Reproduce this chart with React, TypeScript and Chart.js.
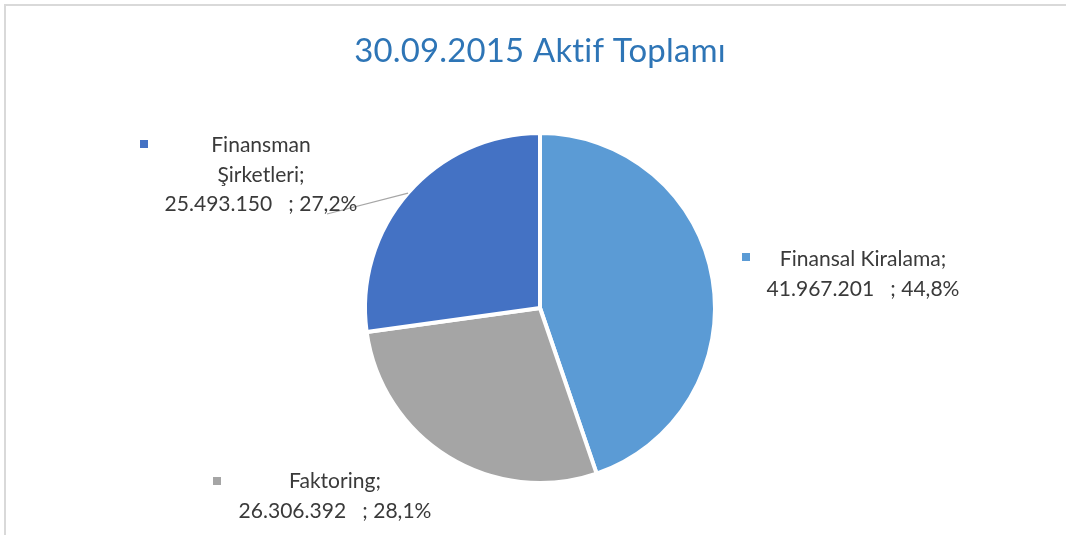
import React, { useEffect, useRef } from "react";
import { Chart, registerables } from "chart.js";

Chart.register(...registerables);

const chartTitle = "30.09.2015 Aktif Toplamı";
const categories = ["Finansal Kiralama", "Faktoring", "Finansman Şirketleri"];
const categoryLines = [["Finansal Kiralama;"], ["Faktoring;"], ["Finansman", "Şirketleri;"]];
const values = [41967201, 26306392, 25493150];
const valueLabels = ["41.967.201", "26.306.392", "25.493.150"];
const percentLabels = ["44,8%", "28,1%", "27,2%"];
const colors = ["#5B9BD5", "#A5A5A5", "#4472C4"];

// label layout (positions only)
const labelLayout = [
  { cx: 863, baseline: 266, mx: 746, my: 257, leader: null as null | number[] },
  { cx: 335, baseline: 488, mx: 217, my: 481, leader: null as null | number[] },
  { cx: 261, baseline: 152, mx: 144, my: 144, leader: [327, 214] },
];

const FONT = "Lato, 'Noto Sans', sans-serif";

function fitSize(ctx: CanvasRenderingContext2D, text: string, target: number, weight = "normal") {
  ctx.font = `${weight} 20px ${FONT}`;
  const w = ctx.measureText(text).width;
  return (20 * target) / w;
}

const overlayPlugin = {
  id: "overlay",
  beforeDraw(chart: any) {
    const ctx: CanvasRenderingContext2D = chart.ctx;
    ctx.save();
    ctx.fillStyle = "#ffffff";
    ctx.fillRect(0, 0, chart.width, chart.height);
    ctx.strokeStyle = "#D9D9D9";
    ctx.lineWidth = 2;
    ctx.beginPath();
    ctx.moveTo(4, 5);
    ctx.lineTo(chart.width, 5);
    ctx.moveTo(5, 4);
    ctx.lineTo(5, chart.height);
    ctx.stroke();
    ctx.restore();
  },
  afterDraw(chart: any) {
    const ctx: CanvasRenderingContext2D = chart.ctx;
    ctx.save();
    // title (small letter spacing disables the "ti" ligature)
    (ctx as any).letterSpacing = "0.2px";
    const ts = fitSize(ctx, chartTitle, 375);
    ctx.font = `normal ${ts}px ${FONT}`;
    ctx.fillStyle = "#2E75B6";
    ctx.textAlign = "center";
    ctx.textBaseline = "alphabetic";
    ctx.fillText(chartTitle, 540, 62);
    (ctx as any).letterSpacing = "0px";

    const meta = chart.getDatasetMeta(0);
    const sampleLine = `${valueLabels[1]}   ; ${percentLabels[1]}`;
    const ls = fitSize(ctx, sampleLine, 193);
    const lineH = 29.5;
    categories.forEach((_, i) => {
      const lay = labelLayout[i];
      const lines = [...categoryLines[i], `${valueLabels[i]}   ; ${percentLabels[i]}`];
      if (lay.leader) {
        const arc = meta.data[i];
        const mid = (arc.startAngle + arc.endAngle) / 2;
        const r = arc.outerRadius;
        ctx.strokeStyle = "#A6A6A6";
        ctx.lineWidth = 1.2;
        ctx.beginPath();
        ctx.moveTo(arc.x + Math.cos(mid) * r, arc.y + Math.sin(mid) * r);
        ctx.lineTo(lay.leader[0], lay.leader[1]);
        ctx.stroke();
      }
      ctx.fillStyle = colors[i];
      ctx.fillRect(lay.mx - 4, lay.my - 4, 8, 8);
      ctx.font = `normal ${ls}px ${FONT}`;
      ctx.fillStyle = "#3A3A3A";
      ctx.textAlign = "center";
      lines.forEach((t, k) => {
        ctx.fillText(t, lay.cx, lay.baseline + k * lineH);
      });
    });
    ctx.restore();
  },
};

export default function App() {
  const ref = useRef<HTMLCanvasElement>(null);
  useEffect(() => {
    document.body.style.margin = "0";
    const chart = new Chart(ref.current as HTMLCanvasElement, {
      type: "pie",
      data: {
        labels: categories,
        datasets: [
          {
            data: values,
            backgroundColor: colors,
            borderColor: "#ffffff",
            borderWidth: 4,
            hoverBorderWidth: 4,
            hoverOffset: 0,
            radius: 175,
          } as any,
        ],
      },
      options: {
        animation: false,
        responsive: false,
        devicePixelRatio: 1,
        layout: { padding: { top: 135, bottom: 54, left: 14, right: 0 } },
        plugins: {
          legend: { display: false },
          title: { display: false },
          tooltip: { enabled: false },
        },
        events: [],
      },
      plugins: [overlayPlugin],
    });
    return () => chart.destroy();
  }, []);
  return (
    <div style={{ position: "absolute", left: 0, top: 0, width: 1066, height: 535 }}>
      <canvas ref={ref} width={1066} height={535} style={{ width: 1066, height: 535 }} />
    </div>
  );
}
